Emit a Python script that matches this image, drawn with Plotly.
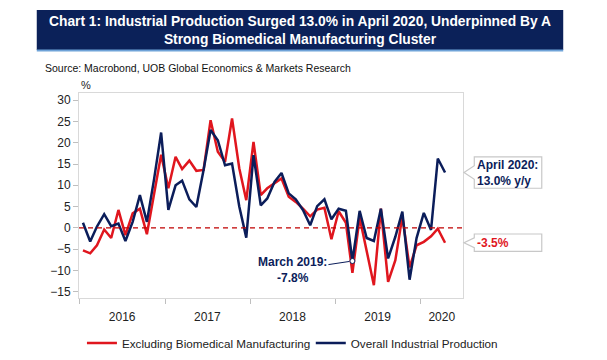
import plotly.graph_objects as go
import pandas as pd

# ---- data ----
dates = [d.strftime("%Y-%m-15") for d in pd.date_range("2016-01-01", "2020-04-01", freq="MS")]

overall = [1.2, -3.2, 0.3, 3.2, 0.4, 1.0, -3.1, 1.4, 7.7, 1.4, 11.5, 22.4,
           4.2, 10.0, 11.1, 6.7, 4.9, 13.6, 23.0, 20.6, 14.7, 15.1, 5.0, -2.3,
           17.1, 5.3, 6.9, 10.8, 12.9, 8.1, 6.7, 4.2, 0.6, 5.1, 6.7, 2.0,
           4.5, 4.0, -7.8, 4.0, -2.4, -3.1, 4.5, -7.2, -2.1, 3.8, -12.2, -2.4,
           3.5, -0.5, 16.3, 13.0]

excl_biomed = [-5.3, -6.0, -4.1, -0.4, -2.4, 4.2, -1.7, 3.4, 4.5, -1.5, 8.0, 17.2,
               9.3, 16.7, 13.8, 15.8, 13.4, 13.6, 25.3, 17.9, 15.5, 25.7, 14.0, 6.5,
               20.2, 7.7, 9.3, 10.4, 11.6, 7.3, 6.1, 4.5, 2.7, 4.3, 4.7, -2.7,
               3.9, 1.2, -10.6, 2.4, -5.3, -13.5, 4.5, -12.7, -7.6, 2.7, -9.3, -4.1,
               -3.3, -2.0, -0.2, -3.5]

year_labels = ["2016", "2017", "2018", "2019", "2020"]
year_label_pos = ["2016-07-01", "2017-07-01", "2018-07-01", "2019-07-01", "2020-04-01"]
year_bounds = ["2016-01-01", "2017-01-01", "2018-01-01", "2019-01-01", "2020-01-01"]
y_ticks = [-15, -10, -5, 0, 5, 10, 15, 20, 25, 30]

march_idx = dates.index("2019-03-15")

RED = "#E0161E"
NAVY = "#0B1D5A"
BANNER = "#0B2159"
FONT = "Liberation Sans, Arial, sans-serif"

fig = go.Figure()
fig.add_trace(go.Scatter(x=dates, y=excl_biomed, mode="lines",
                         name="Excluding Biomedical Manufacturing", legend="legend",
                         line=dict(color=RED, width=2.5)))
fig.add_trace(go.Scatter(x=dates, y=overall, mode="lines",
                         name="Overall Industrial Production", legend="legend2",
                         line=dict(color=NAVY, width=2.5)))
fig.add_trace(go.Scatter(x=[dates[march_idx]], y=[overall[march_idx]], mode="markers",
                         showlegend=False,
                         marker=dict(size=5, color="white", line=dict(color=NAVY, width=1))))

shapes = []
# title banner
shapes.append(dict(type="rect", xref="paper", yref="paper", x0=-0.110, x1=1.261,
                   y0=1.210, y1=1.405, fillcolor=BANNER, line=dict(width=0), layer="above"))
shapes.append(dict(type="line", xref="paper", yref="paper", x0=-0.110, x1=1.261,
                   y0=1.207, y1=1.207, line=dict(color="#6FA3D8", width=2)))
# zero line
shapes.append(dict(type="line", xref="paper", yref="y", x0=0, x1=1, y0=0, y1=0,
                   line=dict(color="#C00000", width=1.3, dash="5px,4px")))

# callouts
def callout(yval, half_h, notch):
    x0, x1, tip = 1.0294, 1.2051, 1.0026
    top, bot = yval + half_h, yval - half_h
    path = (f"M {x0},{top} L {x1},{top} L {x1},{bot} L {x0},{bot} "
            f"L {x0},{yval - notch} L {tip},{yval} L {x0},{yval + notch} Z")
    return dict(type="path", xref="paper", yref="y", path=path,
                fillcolor="white", line=dict(color="#C8C8C8", width=1.2))

shapes.append(callout(overall[-1], 3.7, 1.6))
shapes.append(callout(excl_biomed[-1], 2.05, 1.15))

annotations = [
    dict(text="Chart 1: Industrial Production Surged 13.0% in April 2020, Underpinned By A<br>"
              "Strong Biomedical Manufacturing Cluster",
         xref="paper", yref="paper", x=0.575, y=1.305, xanchor="center", yanchor="middle",
         showarrow=False, font=dict(family=FONT, size=13.8, color="white", weight="bold")),
    dict(text="Source: Macrobond, UOB Global Economics & Markets Research",
         xref="paper", yref="paper", x=-0.093, y=1.122, xanchor="left", yanchor="middle",
         showarrow=False, font=dict(family=FONT, size=10.5, color="#111111")),
    dict(text="%", xref="paper", yref="paper", x=0.0, y=1.04, xanchor="left", yanchor="middle",
         showarrow=False, font=dict(family=FONT, size=11, color="#222222")),
    dict(text="March 2019:<br>-7.8%", x=dates[march_idx], y=overall[march_idx],
         xref="x", yref="y", ax=-60, ay=9, showarrow=True, arrowhead=0, arrowwidth=1,
         arrowcolor=NAVY, standoff=3,
         font=dict(family=FONT, size=12, color=NAVY, weight="bold")),
    dict(text="April 2020:<br>13.0% y/y", xref="paper", yref="y", x=1.032, y=overall[-1],
         xanchor="left", yanchor="middle", align="left", showarrow=False,
         font=dict(family=FONT, size=12, color=NAVY, weight="bold")),
    dict(text="-3.5%", xref="paper", yref="y", x=1.032, y=excl_biomed[-1],
         xanchor="left", yanchor="middle", align="left", showarrow=False,
         font=dict(family=FONT, size=12, color=RED, weight="bold")),
]

legend_common = dict(orientation="v", xref="container", yref="container",
                     xanchor="left", y=0.047, yanchor="middle",
                     font=dict(family=FONT, size=11.7, color="#222222"),
                     itemwidth=30, bgcolor="rgba(0,0,0,0)")

fig.update_layout(
    width=607, height=360,
    margin=dict(l=79, r=144, t=93, b=62, autoexpand=False),
    paper_bgcolor="white", plot_bgcolor="white",
    font=dict(family=FONT, size=12, color="#222222"),
    xaxis=dict(type="date", range=["2015-12-29", "2020-07-01"],
               tickmode="array", tickvals=year_label_pos, ticktext=year_labels,
               ticks="", showgrid=False, zeroline=False,
               showline=True, mirror=True, linecolor="#D9D9D9", linewidth=1,
               ticklabelstandoff=8,
               tickfont=dict(family=FONT, size=12, color="#222222"),
               minor=dict(tickmode="array", tickvals=year_bounds, ticks="outside",
                          ticklen=5, tickcolor="#BFBFBF", tickwidth=1, showgrid=False)),
    yaxis=dict(range=[-16.5, 31.7], tickmode="array", tickvals=y_ticks,
               ticks="outside", ticklen=5, tickcolor="#BFBFBF", tickwidth=1,
               showgrid=False, zeroline=False,
               showline=True, mirror=True, linecolor="#D9D9D9", linewidth=1,
               tickfont=dict(family=FONT, size=12, color="#222222")),
    legend=dict(legend_common, x=0.135),
    legend2=dict(legend_common, x=0.512),
    shapes=shapes,
    annotations=annotations,
)

fig.write_html("out.html", config={"displayModeBar": False},
               post_script="document.body.style.margin='0';")
